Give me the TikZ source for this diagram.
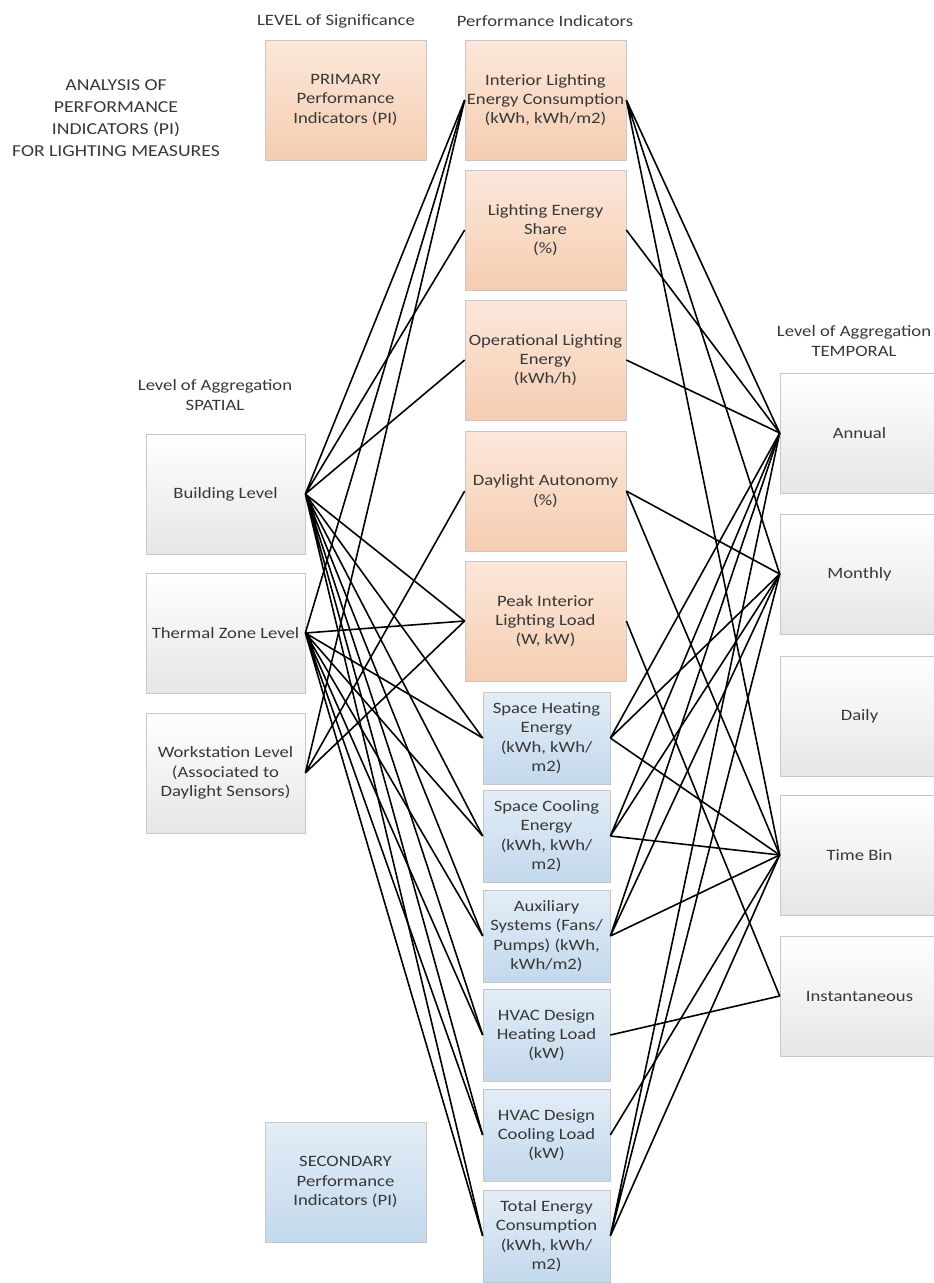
\documentclass[tikz,border=0pt]{standalone}
\usepackage{fontspec}
\setmainfont{Carlito}[FakeStretch=1.18]
\definecolor{pitop}{HTML}{FCE7DA}
\definecolor{pibot}{HTML}{F5CDB1}
\definecolor{sitop}{HTML}{E3EDF7}
\definecolor{sibot}{HTML}{C3D9EC}
\definecolor{grbot}{HTML}{E6E6E6}
\tikzset{
  box/.style={draw=black!22, inner sep=0pt, align=center, text=black!78,
    font=\fontsize{9}{11}\selectfont},
  orangebox/.style={box, top color=pitop, bottom color=pibot,
    minimum width=3.22cm, minimum height=2.4cm},
  bluebox/.style={box, top color=sitop, bottom color=sibot,
    minimum width=3.22cm, minimum height=2.4cm},
  smallblue/.style={bluebox, minimum width=2.54cm, minimum height=1.84cm},
  graybox/.style={box, top color=white, bottom color=grbot,
    minimum width=3.18cm, minimum height=2.4cm},
  lbl/.style={text=black!78, align=center, font=\fontsize{9}{11}\selectfont},
  link/.style={line width=0.9pt}
}
\begin{document}
\begin{tikzpicture}[x=0.02cm, y=-0.02cm]
\useasboundingbox (0,0) rectangle (933,1283);

% headings
\node[lbl, font=\fontsize{9.5}{12.5}\selectfont] (title) at (116,118)
  {ANALYSIS OF\\PERFORMANCE\\INDICATORS (PI)\\FOR LIGHTING MEASURES};
\node[lbl] (sighead) at (336,21) {LEVEL of Significance};
\node[lbl] (pihead) at (545,21) {Performance Indicators};
\node[lbl] (spahead) at (215,395) {Level of Aggregation\\SPATIAL};
\node[lbl] (temhead) at (854,341) {Level of Aggregation\\TEMPORAL};

% level of significance
\node[orangebox] (prim) at (345.5,100) {PRIMARY\\Performance\\Indicators (PI)};
\node[bluebox] (sec) at (345.5,1182) {SECONDARY\\Performance\\Indicators (PI)};

% performance indicators
\node[orangebox] (int) at (545.5,100) {Interior Lighting\\Energy Consumption\\(kWh, kWh/m2)};
\node[orangebox] (shr) at (545.5,230) {Lighting Energy\\Share\\(\%)};
\node[orangebox] (opr) at (545.5,360) {Operational Lighting\\Energy\\(kWh/h)};
\node[orangebox] (day) at (545.5,491) {Daylight Autonomy\\(\%)};
\node[orangebox] (peak) at (545.5,621) {Peak Interior\\Lighting Load\\(W, kW)};
\node[smallblue] (sh) at (546.5,738) {Space Heating\\Energy\\(kWh, kWh/\\m2)};
\node[smallblue] (sc) at (546.5,836) {Space Cooling\\Energy\\(kWh, kWh/\\m2)};
\node[smallblue] (aux) at (546.5,936) {Auxiliary\\Systems (Fans/\\Pumps) (kWh,\\kWh/m2)};
\node[smallblue] (hh) at (546.5,1035) {HVAC Design\\Heating Load\\(kW)};
\node[smallblue] (hc) at (546.5,1135) {HVAC Design\\Cooling Load\\(kW)};
\node[smallblue] (tot) at (546.5,1236) {Total Energy\\Consumption\\(kWh, kWh/\\m2)};

% spatial
\node[graybox] (bld) at (225.5,494) {Building Level};
\node[graybox] (thz) at (225.5,633) {Thermal Zone Level};
\node[graybox] (wks) at (225.5,773) {Workstation Level\\(Associated to\\Daylight Sensors)};

% temporal
\node[graybox] (ann) at (859.5,433) {Annual};
\node[graybox] (mon) at (859.5,574) {Monthly};
\node[graybox] (dly) at (859.5,716) {Daily};
\node[graybox] (tbin) at (859.5,855) {Time Bin};
\node[graybox] (inst) at (859.5,996) {Instantaneous};

% spatial -- indicators
\draw[link] (bld.east) -- (int.west) (bld.east) -- (shr.west) (bld.east) -- (opr.west)
  (bld.east) -- (peak.west) (bld.east) -- (sh.west) (bld.east) -- (sc.west)
  (bld.east) -- (aux.west) (bld.east) -- (hh.west) (bld.east) -- (hc.west)
  (bld.east) -- (tot.west);
\draw[link] (thz.east) -- (int.west) (thz.east) -- (peak.west) (thz.east) -- (sh.west)
  (thz.east) -- (sc.west) (thz.east) -- (aux.west) (thz.east) -- (hh.west)
  (thz.east) -- (hc.west) (thz.east) -- (tot.west);
\draw[link] (wks.east) -- (int.west) (wks.east) -- (day.west) (wks.east) -- (peak.west);

% indicators -- temporal
\draw[link] (int.east) -- (ann.west) (int.east) -- (mon.west) (int.east) -- (tbin.west);
\draw[link] (shr.east) -- (ann.west);
\draw[link] (opr.east) -- (ann.west);
\draw[link] (day.east) -- (mon.west) (day.east) -- (tbin.west);
\draw[link] (peak.east) -- (inst.west);
\draw[link] (sh.east) -- (ann.west) (sh.east) -- (mon.west) (sh.east) -- (tbin.west);
\draw[link] (sc.east) -- (ann.west) (sc.east) -- (mon.west) (sc.east) -- (tbin.west);
\draw[link] (aux.east) -- (ann.west) (aux.east) -- (mon.west) (aux.east) -- (tbin.west);
\draw[link] (hh.east) -- (inst.west);
\draw[link] (hc.east) -- (tbin.west);
\draw[link] (tot.east) -- (ann.west) (tot.east) -- (mon.west) (tot.east) -- (tbin.west);
\end{tikzpicture}
\end{document}
